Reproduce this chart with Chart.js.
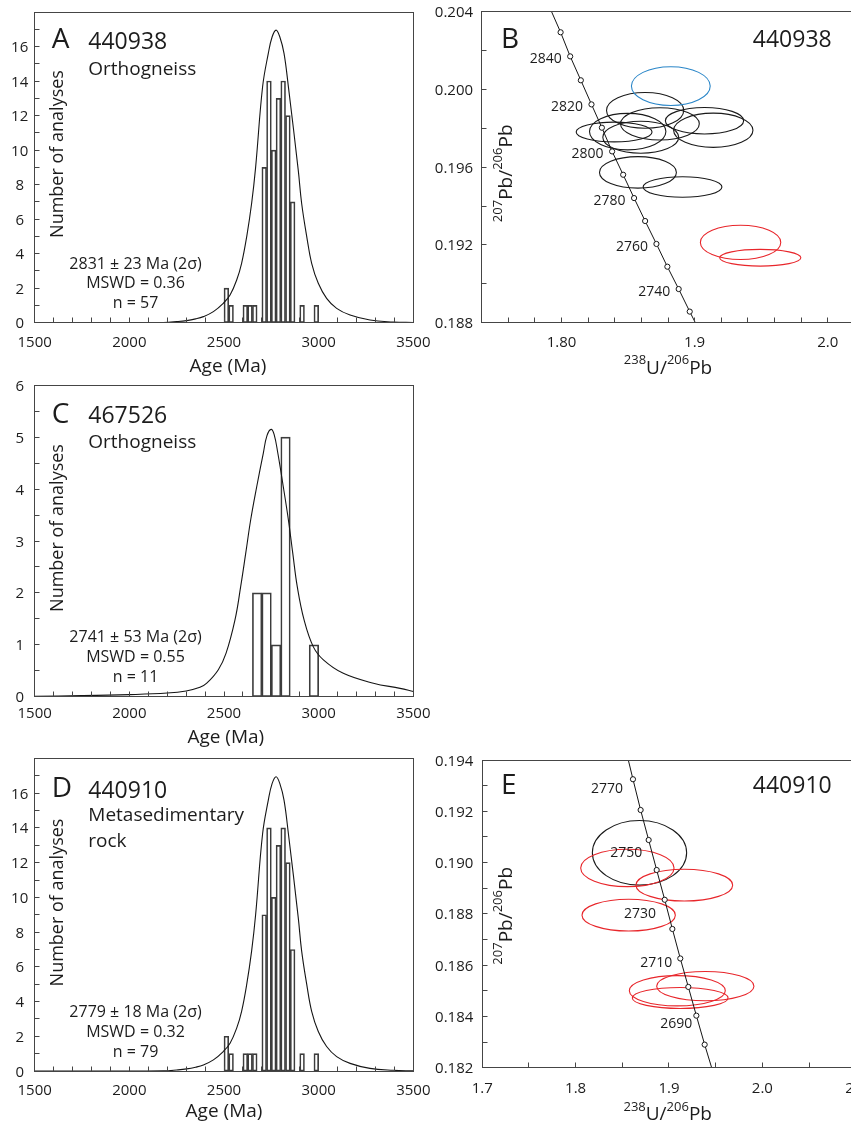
<!DOCTYPE html>
<html>
<head>
<meta charset="utf-8">
<title>U-Pb zircon ages</title>
<script src="https://cdn.jsdelivr.net/npm/chart.js@4.4.0/dist/chart.umd.min.js"></script>
<style>
  html, body { margin: 0; padding: 0; background: #fff; width: 851px; height: 1123px; overflow: hidden; }
  canvas { position: absolute; }
</style>
</head>
<body>
<canvas id="panelA" width="440" height="385" style="left:0;top:0"></canvas>
<canvas id="panelC" width="440" height="385" style="left:0;top:372px"></canvas>
<canvas id="panelD" width="440" height="385" style="left:0;top:750px"></canvas>
<canvas id="panelB" width="470" height="385" style="left:430px;top:0"></canvas>
<canvas id="panelE" width="470" height="385" style="left:430px;top:750px"></canvas>
<script>
// ---- histogram data (bin centres in Ma, counts) ----
// samples 440938 and 440910 share the same 25 Ma histogram
const binsAD = [2512.5, 2537.5, 2612.5, 2637.5, 2662.5, 2712.5, 2737.5, 2762.5, 2787.5, 2812.5, 2837.5, 2862.5, 2912.5, 2987.5];
const countsAD = [2, 1, 1, 1, 1, 9, 14, 10, 13, 14, 12, 7, 1, 1];
// probability density curve, sampled in Ma
const curveAgeAD = [1500, 2000, 2180, 2250, 2303, 2350, 2391, 2444, 2496, 2532, 2567, 2593, 2620, 2646, 2667, 2704, 2734, 2754, 2775, 2795, 2817, 2840, 2892, 2910, 2937, 2963, 2998, 3042, 3095, 3166, 3271, 3394, 3500];
const curveValAD = [0, 0, 0.01, 0.06, 0.12, 0.22, 0.35, 0.64, 1.12, 1.6, 2.47, 3.44, 4.99, 6.92, 9.0, 13.68, 15.6, 16.55, 16.95, 16.55, 15.6, 13.68, 8.85, 6.92, 4.99, 3.44, 2.28, 1.41, 0.83, 0.44, 0.15, 0.04, 0.01];

// sample 467526, 50 Ma bins
const binsC = [2675, 2725, 2775, 2825, 2975];
const countsC = [2, 2, 1, 5, 1];
const curveAgeC = [1500, 1750, 2000, 2200, 2300, 2373, 2409, 2470, 2511, 2558, 2588, 2615, 2641, 2673, 2708, 2727, 2749, 2765, 2784, 2813, 2840, 2863, 2887, 2923, 2972, 3025, 3130, 3289, 3430, 3500];
const curveValC = [0.01, 0.02, 0.04, 0.07, 0.11, 0.18, 0.26, 0.52, 0.84, 1.48, 2.12, 2.77, 3.41, 4.05, 4.70, 5.03, 5.15, 5.05, 4.70, 4.05, 3.41, 2.77, 2.12, 1.48, 0.96, 0.71, 0.45, 0.26, 0.16, 0.1];

// ---- concordia, 440938 (238U/206Pb, 207Pb/206Pb), markers every 10 Ma ----
const bConcAge = [2850, 2840, 2830, 2820, 2810, 2800, 2790, 2780, 2770, 2760, 2750, 2740, 2730];
const bConcX = [1.7993, 1.8065, 1.8145, 1.8225, 1.8303, 1.8380, 1.8463, 1.8545, 1.8628, 1.8713, 1.8795, 1.8880, 1.8963];
const bConcY = [0.20294, 0.20170, 0.20047, 0.19923, 0.19803, 0.19681, 0.19561, 0.19441, 0.19323, 0.19205, 0.19088, 0.18973, 0.18857];
const bConcEnds = [[1.7925, 0.2040], [1.9005, 0.1880]];
const bLabelAge = [2840, 2820, 2800, 2780, 2760, 2740];
// error ellipses: [centre x, centre y, half-width, half-height]
const bBlack = [
  [1.8628, 0.19892, 0.0290, 0.00092],
  [1.8395, 0.19781, 0.0285, 0.00051],
  [1.8497, 0.19783, 0.0287, 0.00094],
  [1.8595, 0.19754, 0.0285, 0.00082],
  [1.8739, 0.19823, 0.0296, 0.00083],
  [1.9074, 0.19839, 0.0294, 0.00068],
  [1.9140, 0.19790, 0.0298, 0.00088],
  [1.8574, 0.19573, 0.0289, 0.00081],
  [1.8909, 0.19498, 0.0296, 0.00053]
];
const bBlue = [[1.8821, 0.20017, 0.0296, 0.00100]];
const bRed = [
  [1.9345, 0.19213, 0.0302, 0.00088],
  [1.9493, 0.19134, 0.0305, 0.00043]
];

// ---- concordia, 440910 ----
const eConcAge = [2770, 2760, 2750, 2740, 2730, 2720, 2710, 2700, 2690, 2680];
const eConcX = [1.8614, 1.8696, 1.8782, 1.8868, 1.8954, 1.9036, 1.9121, 1.9207, 1.9293, 1.9382];
const eConcY = [0.19325, 0.19205, 0.19088, 0.18971, 0.18855, 0.18741, 0.18626, 0.18515, 0.18403, 0.18290];
const eConcEnds = [[1.8564, 0.1940], [1.9457, 0.1820]];
const eLabelAge = [2770, 2750, 2730, 2710, 2690];
const eBlack = [[1.8684, 0.19038, 0.0505, 0.00126]];
const eRed = [
  [1.8554, 0.18979, 0.0500, 0.00073],
  [1.9164, 0.18912, 0.0518, 0.00062],
  [1.8568, 0.18795, 0.0500, 0.00062],
  [1.9089, 0.18500, 0.0514, 0.00059],
  [1.9389, 0.18518, 0.0521, 0.00057],
  [1.9120, 0.18472, 0.0513, 0.00041]
];

// ---- ticks ----
const histXTicks = [1500, 1600, 1700, 1800, 1900, 2000, 2100, 2200, 2300, 2400, 2500, 2600, 2700, 2800, 2900, 3000, 3100, 3200, 3300, 3400, 3500];
const histXLabels = [1500, 2000, 2500, 3000, 3500];
const adYTicks = [0, 1, 2, 3, 4, 5, 6, 7, 8, 9, 10, 11, 12, 13, 14, 15, 16, 17, 18];
const adYLabels = [0, 2, 4, 6, 8, 10, 12, 14, 16];
const cYTicks = [0, 0.5, 1, 1.5, 2, 2.5, 3, 3.5, 4, 4.5, 5, 5.5, 6];
const cYLabels = [0, 1, 2, 3, 4, 5, 6];
const bXTicks = [1.74, 1.76, 1.78, 1.80, 1.82, 1.84, 1.86, 1.88, 1.90, 1.92, 1.94, 1.96, 1.98, 2.00, 2.02, 2.04];
const bXLabels = [1.80, 1.90, 2.00];
const bXLabelText = ['1.80', '1.9', '2.0'];
const bYTicks = [0.188, 0.190, 0.192, 0.194, 0.196, 0.198, 0.200, 0.202, 0.204];
const bYLabels = [0.188, 0.192, 0.196, 0.200, 0.204];
const eXTicks = [1.70, 1.75, 1.80, 1.85, 1.90, 1.95, 2.00, 2.05, 2.10];
const eXLabels = [1.7, 1.8, 1.9, 2.0, 2.1];
const eYTicks = [0.182, 0.183, 0.184, 0.185, 0.186, 0.187, 0.188, 0.189, 0.190, 0.191, 0.192, 0.193, 0.194];
const eYLabels = [0.182, 0.184, 0.186, 0.188, 0.190, 0.192, 0.194];

const FAMILY = "'Open Sans', 'Noto Sans', sans-serif";
const INK = '#1c1c1c';
const AXIS = '#454545';
const TICK_LEN = 5;
const font = size => size + 'px ' + FAMILY;

const PB207 = [{ t: '207', sup: true }, { t: 'Pb/' }, { t: '206', sup: true }, { t: 'Pb' }];
const U238 = [{ t: '238', sup: true }, { t: 'U/' }, { t: '206', sup: true }, { t: 'Pb' }];

function drawRich(ctx, segs, x, y, rot) {
  const main = 19, small = 13, raise = 9.5;
  ctx.save();
  ctx.translate(x, y);
  ctx.rotate(rot || 0);
  ctx.textAlign = 'left';
  ctx.textBaseline = 'alphabetic';
  const widths = segs.map(s => { ctx.font = font(s.sup ? small : main); return ctx.measureText(s.t).width; });
  let cx = -widths.reduce((a, b) => a + b, 0) / 2;
  segs.forEach((s, i) => {
    ctx.font = font(s.sup ? small : main);
    ctx.fillText(s.t, cx, s.sup ? -raise : 0);
    cx += widths[i];
  });
  ctx.restore();
}

// frame, inward ticks, tick labels, annotations and error ellipses
function makeDecor(cfg) {
  return {
    id: 'decor',
    beforeDatasetsDraw(chart) {
      if (!cfg.ellipses) return;
      const { ctx, chartArea: ca } = chart;
      const xs = chart.scales.x, ys = chart.scales.y;
      ctx.save();
      ctx.beginPath();
      ctx.rect(ca.left, ca.top, ca.right - ca.left, ca.bottom - ca.top);
      ctx.clip();
      ctx.lineWidth = 1.1;
      cfg.ellipses.forEach(group => {
        ctx.strokeStyle = group.color;
        group.items.forEach(([cx, cy, rx, ry]) => {
          const px = xs.getPixelForValue(cx), py = ys.getPixelForValue(cy);
          const rpx = Math.abs(xs.getPixelForValue(cx + rx) - px);
          const rpy = Math.abs(ys.getPixelForValue(cy + ry) - py);
          ctx.beginPath();
          ctx.ellipse(px, py, rpx, rpy, 0, 0, Math.PI * 2);
          ctx.stroke();
        });
      });
      ctx.restore();
    },
    afterDraw(chart) {
      const { ctx, chartArea: ca } = chart;
      const xs = chart.scales.x, ys = chart.scales.y;
      ctx.save();
      ctx.strokeStyle = AXIS;
      ctx.lineWidth = 1;
      const L = Math.floor(ca.left) + 0.5, T = Math.floor(ca.top) + 0.5;
      const R = Math.floor(ca.right) + 0.5, B = Math.floor(ca.bottom) + 0.5;
      ctx.strokeRect(L, T, R - L, B - T);
      ctx.beginPath();
      cfg.xTicks.forEach(v => {
        const p = Math.floor(xs.getPixelForValue(v)) + 0.5;
        ctx.moveTo(p, B); ctx.lineTo(p, B - TICK_LEN);
      });
      cfg.yTicks.forEach(v => {
        const p = Math.floor(ys.getPixelForValue(v)) + 0.5;
        ctx.moveTo(L, p); ctx.lineTo(L + TICK_LEN, p);
      });
      ctx.stroke();

      ctx.fillStyle = INK;
      ctx.font = font(15);
      ctx.textAlign = 'center';
      ctx.textBaseline = 'alphabetic';
      cfg.xLabels.forEach((v, i) => ctx.fillText(cfg.xText[i], xs.getPixelForValue(v), ca.bottom + cfg.xGap));
      cfg.yLabels.forEach((v, i) => ctx.fillText(cfg.yText[i], ca.left - cfg.yGap, ys.getPixelForValue(v) + 5.5));

      // age labels beside the concordia markers
      if (cfg.conc) {
        const c = cfg.conc;
        ctx.font = font(14);
        ctx.textAlign = 'right';
        c.labels.forEach((age, i) => {
          const k = c.ages.indexOf(age);
          const sh = c.shift[i] || c.shift[0];
          ctx.fillText(String(age), xs.getPixelForValue(c.xs[k]) + sh[0], ys.getPixelForValue(c.ys[k]) + sh[1]);
        });
      }

      cfg.texts.forEach(tx => {
        ctx.save();
        ctx.font = font(tx.size);
        ctx.textAlign = tx.align || 'left';
        ctx.translate(tx.x, tx.y);
        if (tx.rot) ctx.rotate(tx.rot);
        ctx.fillText(tx.t, 0, 0);
        ctx.restore();
      });
      (cfg.rich || []).forEach(r => drawRich(ctx, r.segs, r.x, r.y, r.rot));
      ctx.restore();
    }
  };
}

const pts = (xs, ys) => xs.map((x, i) => ({ x: x, y: ys[i] }));

function histogram(id, padding, bins, counts, curveAge, curveVal, yMax, decor) {
  return new Chart(document.getElementById(id), {
    type: 'bar',
    data: {
      datasets: [
        {
          type: 'line',
          data: pts(curveAge, curveVal),
          borderColor: '#151515',
          borderWidth: 1.1,
          pointRadius: 0,
          tension: 0.4,
          fill: false,
          order: 0
        },
        {
          type: 'bar',
          data: pts(bins, counts),
          backgroundColor: 'rgba(0,0,0,0)',
          borderColor: '#3c3c3c',
          borderWidth: 1,
          borderSkipped: false,
          barPercentage: 1,
          categoryPercentage: 1,
          order: 1
        }
      ]
    },
    options: {
      responsive: false,
      animation: false,
      layout: { padding: padding },
      plugins: { legend: { display: false }, tooltip: { enabled: false } },
      scales: {
        x: { type: 'linear', display: false, min: 1500, max: 3500, offset: false },
        y: { type: 'linear', display: false, min: 0, max: yMax }
      }
    },
    plugins: [makeDecor(decor)]
  });
}

function concordia(id, padding, xMin, xMax, yMin, yMax, cx, cy, ends, decor) {
  const line = [{ x: ends[0][0], y: ends[0][1] }].concat(pts(cx, cy), [{ x: ends[1][0], y: ends[1][1] }]);
  return new Chart(document.getElementById(id), {
    type: 'scatter',
    data: {
      datasets: [
        { data: pts(cx, cy), showLine: false, pointRadius: 2.6, pointBackgroundColor: '#fff', pointBorderColor: '#151515', pointBorderWidth: 1, order: 0 },
        { data: line, showLine: true, borderColor: '#151515', borderWidth: 1, pointRadius: 0, order: 1 }
      ]
    },
    options: {
      responsive: false,
      animation: false,
      layout: { padding: padding },
      plugins: { legend: { display: false }, tooltip: { enabled: false } },
      scales: {
        x: { type: 'linear', display: false, min: xMin, max: xMax },
        y: { type: 'linear', display: false, min: yMin, max: yMax }
      }
    },
    plugins: [makeDecor(decor)]
  });
}

const histX = { xTicks: histXTicks, xLabels: histXLabels, xText: histXLabels.map(String), yGap: 15 };

histogram('panelA', { left: 34.67, top: 12, right: 26.67, bottom: 62.33 }, binsAD, countsAD, curveAgeAD, curveValAD, 18,
  Object.assign({}, histX, {
    xGap: 24, yTicks: adYTicks, yLabels: adYLabels, yText: adYLabels.map(String),
    texts: [
      { t: 'A', x: 51.7, y: 48.3, size: 28 },
      { t: '440938', x: 88.3, y: 49.3, size: 23 },
      { t: 'Orthogneiss', x: 88.3, y: 75, size: 19 },
      { t: '2831 ± 23 Ma (2σ)', x: 135.5, y: 268.5, size: 16, align: 'center' },
      { t: 'MSWD = 0.36', x: 135.5, y: 287.5, size: 16, align: 'center' },
      { t: 'n = 57', x: 135.5, y: 308.3, size: 16, align: 'center' },
      { t: 'Number of analyses', x: 63, y: 154, size: 18, align: 'center', rot: -Math.PI / 2 },
      { t: 'Age (Ma)', x: 228, y: 372, size: 19, align: 'center' }
    ]
  }));

histogram('panelC', { left: 34.67, top: 13.3, right: 26.67, bottom: 60.3 }, binsC, countsC, curveAgeC, curveValC, 6,
  Object.assign({}, histX, {
    xGap: 21.6, yTicks: cYTicks, yLabels: cYLabels, yText: cYLabels.map(String),
    texts: [
      { t: 'C', x: 51.7, y: 51.3, size: 28 },
      { t: '467526', x: 88.3, y: 51.3, size: 23 },
      { t: 'Orthogneiss', x: 88.3, y: 76, size: 19 },
      { t: '2741 ± 53 Ma (2σ)', x: 135.5, y: 269.7, size: 16, align: 'center' },
      { t: 'MSWD = 0.55', x: 135.5, y: 289.7, size: 16, align: 'center' },
      { t: 'n = 11', x: 135.5, y: 310.3, size: 16, align: 'center' },
      { t: 'Number of analyses', x: 63, y: 156, size: 18, align: 'center', rot: -Math.PI / 2 },
      { t: 'Age (Ma)', x: 225.8, y: 370.7, size: 19, align: 'center' }
    ]
  }));

histogram('panelD', { left: 34.67, top: 8.5, right: 26.67, bottom: 64 }, binsAD, countsAD, curveAgeAD, curveValAD, 18,
  Object.assign({}, histX, {
    xGap: 24, yTicks: adYTicks, yLabels: adYLabels, yText: adYLabels.map(String),
    texts: [
      { t: 'D', x: 51.7, y: 46.7, size: 28 },
      { t: '440910', x: 88.3, y: 48, size: 23 },
      { t: 'Metasedimentary', x: 88.3, y: 71, size: 19 },
      { t: 'rock', x: 88.3, y: 96.7, size: 19 },
      { t: '2779 ± 18 Ma (2σ)', x: 135.5, y: 266.7, size: 16, align: 'center' },
      { t: 'MSWD = 0.32', x: 135.5, y: 286.7, size: 16, align: 'center' },
      { t: 'n = 79', x: 135.5, y: 306.7, size: 16, align: 'center' },
      { t: 'Number of analyses', x: 63, y: 152.5, size: 18, align: 'center', rot: -Math.PI / 2 },
      { t: 'Age (Ma)', x: 224, y: 367, size: 19, align: 'center' }
    ]
  }));

concordia('panelB', { left: 51.67, top: 11.67, right: 19, bottom: 62.33 }, 1.74, 2.04, 0.188, 0.204, bConcX, bConcY, bConcEnds, {
  xTicks: bXTicks, xLabels: bXLabels, xText: bXLabelText, xGap: 24,
  yTicks: bYTicks, yLabels: bYLabels, yText: bYLabels.map(v => v.toFixed(3)), yGap: 27.7,
  conc: { ages: bConcAge, xs: bConcX, ys: bConcY, labels: bLabelAge, shift: [[-8.5, 7]] },
  ellipses: [
    { color: '#1a1a1a', items: bBlack },
    { color: '#2a86c8', items: bBlue },
    { color: '#e8262b', items: bRed }
  ],
  texts: [
    { t: 'B', x: 71, y: 48.3, size: 28 },
    { t: '440938', x: 401.7, y: 46.7, size: 23, align: 'right' }
  ],
  rich: [
    { segs: PB207, x: 81.7, y: 173.3, rot: -Math.PI / 2 },
    { segs: U238, x: 238, y: 373.5 }
  ]
});

concordia('panelE', { left: 52.3, top: 10, right: 44.3, bottom: 67.3 }, 1.7, 2.1, 0.182, 0.194, eConcX, eConcY, eConcEnds, {
  xTicks: eXTicks, xLabels: eXLabels, xText: eXLabels.map(v => v.toFixed(1)), xGap: 25.6,
  yTicks: eYTicks, yLabels: eYLabels, yText: eYLabels.map(v => v.toFixed(3)), yGap: 28.1,
  conc: { ages: eConcAge, xs: eConcX, ys: eConcY, labels: eLabelAge, shift: [[-10, 13.4], [-6.5, 17.3], [-8.7, 18], [-8, 9], [-4, 12.6]] },
  ellipses: [
    { color: '#1a1a1a', items: eBlack },
    { color: '#e8262b', items: eRed }
  ],
  texts: [
    { t: 'E', x: 71, y: 44, size: 28 },
    { t: '440910', x: 401.7, y: 43.3, size: 23, align: 'right' }
  ],
  rich: [
    { segs: PB207, x: 81.7, y: 165.8, rot: -Math.PI / 2 },
    { segs: U238, x: 237.7, y: 370 }
  ]
});
</script>
</body>
</html>
